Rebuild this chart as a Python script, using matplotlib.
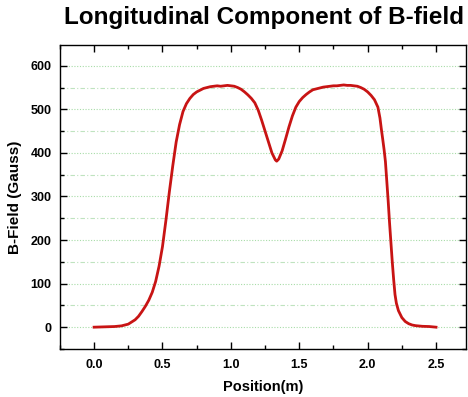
import matplotlib
matplotlib.use("Agg")
import matplotlib.pyplot as plt
from matplotlib import font_manager as fm
from matplotlib.ticker import MultipleLocator, FormatStrFormatter

plt.rcParams['font.family'] = ['Liberation Sans', 'DejaVu Sans']

# pick the regular-width bold Liberation Sans file (not the Narrow one)
bold_file = None
for f in fm.fontManager.ttflist:
    base = f.fname.split('/')[-1].lower()
    if base in ('liberationsans-bold.ttf',):
        bold_file = f.fname
        break
if bold_file:
    fp = lambda size: fm.FontProperties(fname=bold_file, size=size)
else:
    fp = lambda size: fm.FontProperties(family='Liberation Sans', weight='bold', size=size)

position = [0.00, 0.05, 0.10, 0.15, 0.20, 0.25, 0.30, 0.325, 0.35, 0.375, 0.40, 0.425,
            0.45, 0.475, 0.50, 0.525, 0.55, 0.575, 0.60, 0.625, 0.65, 0.675, 0.70, 0.725,
            0.75, 0.775, 0.80, 0.825, 0.85, 0.875, 0.90, 0.925, 0.95, 0.975, 1.00, 1.025,
            1.05, 1.075, 1.10, 1.125, 1.15, 1.175, 1.20, 1.225, 1.25, 1.275, 1.30, 1.325,
            1.335, 1.35, 1.375, 1.40, 1.425, 1.45, 1.475, 1.50, 1.525, 1.55, 1.575, 1.60,
            1.625, 1.65, 1.675, 1.70, 1.725, 1.75, 1.775, 1.80, 1.825, 1.85, 1.875, 1.90,
            1.925, 1.95, 1.975, 2.00, 2.025, 2.05, 2.075, 2.09, 2.10, 2.11, 2.12, 2.13,
            2.14, 2.15, 2.16, 2.17, 2.18, 2.19, 2.20, 2.21, 2.225, 2.25, 2.275, 2.30,
            2.325, 2.35, 2.40, 2.45, 2.50]
b_field = [0, 0.5, 1, 1.5, 3, 7, 17, 25, 36, 48, 62, 80,
           105, 140, 185, 245, 310, 370, 425, 465, 495, 513, 525, 534,
           540, 544, 548, 550, 552, 553, 554, 553, 554, 555, 554, 553,
           550, 546, 540, 533, 525, 515, 498, 475, 450, 425, 400, 384,
           381, 386, 405, 432, 460, 485, 505, 518, 527, 534, 540, 545,
           547, 549, 551, 552, 553, 554, 554, 555, 556, 555, 555, 554,
           553, 550, 546, 540, 532, 522, 505, 480, 455, 432, 408, 380,
           335, 290, 240, 195, 150, 110, 75, 55, 38, 22, 13, 8,
           5, 3.5, 2, 1.5, 0]

fig = plt.figure(figsize=(4.68, 3.97), dpi=100)
ax = fig.add_axes([0.128, 0.121, 0.868, 0.766])

ax.plot(position, b_field, color='#c81414', lw=2.0, zorder=3)

ax.set_xlim(-0.25, 2.72)
ax.set_ylim(-50, 648)
ax.xaxis.set_major_locator(MultipleLocator(0.5))
ax.xaxis.set_minor_locator(MultipleLocator(0.25))
ax.yaxis.set_major_locator(MultipleLocator(100))
ax.yaxis.set_minor_locator(MultipleLocator(50))

ax.grid(True, which='major', axis='y', color='#a8dca8', ls=(0, (1, 1.5)), lw=0.8)
ax.grid(True, which='minor', axis='y', color='#bfe3bf', ls=(0, (4, 2, 1, 2)), lw=0.8)

ax.tick_params(which='both', direction='in', top=True, right=True, width=1.0)
ax.tick_params(which='major', length=5)
ax.tick_params(which='minor', length=3)
ax.tick_params(axis='x', which='major', pad=7)
ax.tick_params(axis='y', which='major', pad=6)

ax.xaxis.set_major_formatter(FormatStrFormatter('%.1f'))
fig.canvas.draw()
for lab in ax.get_xticklabels() + ax.get_yticklabels():
    lab.set_fontproperties(fp(9))

for s in ax.spines.values():
    s.set_linewidth(1.0)

ax.set_xlabel('Position(m)', fontproperties=fp(10.5), labelpad=7)
ax.set_ylabel('B-Field (Gauss)', fontproperties=fp(11), labelpad=6)
fig.text(0.565, 0.955, 'Longitudinal Component of B-field', fontproperties=fp(17.5),
         ha='center', va='center')

fig.savefig('out.png', dpi=100)
